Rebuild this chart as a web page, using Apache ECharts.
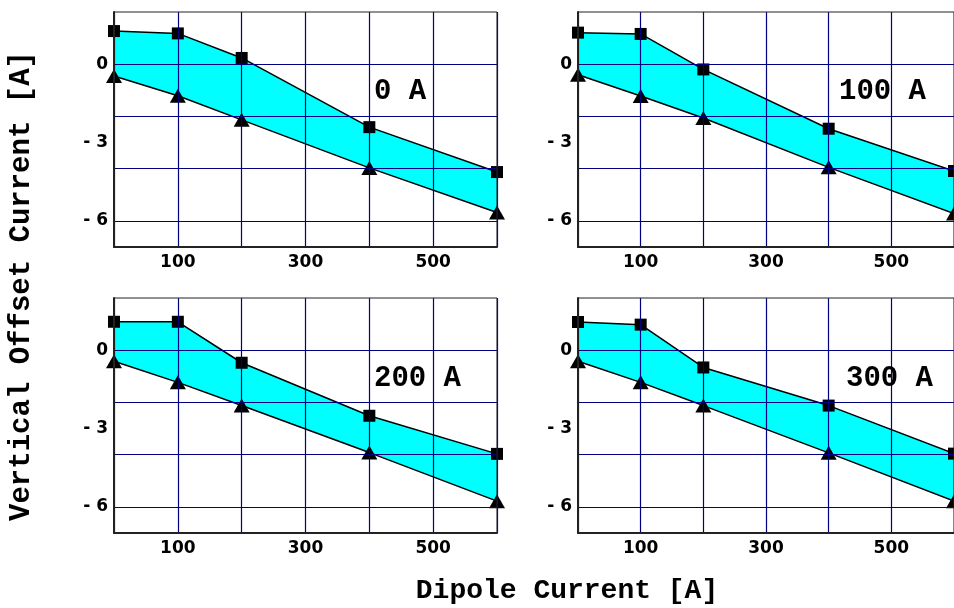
<!DOCTYPE html>
<html>
<head>
<meta charset="utf-8">
<script src="https://cdn.jsdelivr.net/npm/echarts@6/dist/echarts.min.js"></script>
<style>
  html, body { margin: 0; padding: 0; background: #ffffff; }
  #chart { width: 954px; height: 608px; }
</style>
</head>
<body>
<div id="chart"></div>
<script>
// Dipole current settings (x) shared by every panel
const dipoleCurrent = [0, 100, 200, 400, 600];

// Panel captions (corrector current)
const panelLabels = ['0 A', '100 A', '200 A', '300 A'];

// Upper limit of the vertical offset current (square markers)
const upper0A   = [1.27, 1.18, 0.24, -2.41, -4.13];
const upper100A = [1.21, 1.16, -0.20, -2.47, -4.09];
const upper200A = [1.09, 1.09, -0.48, -2.51, -3.97];
const upper300A = [1.08, 0.98, -0.66, -2.12, -3.96];

// Lower limit of the vertical offset current (triangle markers)
const lower0A   = [-0.45, -1.21, -2.13, -3.97, -5.68];
const lower100A = [-0.40, -1.22, -2.06, -3.95, -5.72];
const lower200A = [-0.42, -1.23, -2.12, -3.92, -5.78];
const lower300A = [-0.42, -1.23, -2.12, -3.93, -5.78];

// Axis ticks
const xTickLabels = [100, 300, 500];
const yTickLabels = [0, -3, -6];
const yGridValues = [0, -2, -4, -6];

const uppers = [upper0A, upper100A, upper200A, upper300A];
const lowers = [lower0A, lower100A, lower200A, lower300A];

// panel placement in pixels
const panelBoxes = [
  { left: 114, top: 12 },
  { left: 578, top: 12 },
  { left: 114, top: 298 },
  { left: 578, top: 298 }
];
const PANEL_W = 383, PANEL_H = 235;

const NAVY = '#000080';
const CYAN = '#00ffff';
const tickFont = { fontFamily: 'DejaVu Sans', fontWeight: 'bold', fontSize: 17, color: '#000' };

function pairs(xs, ys) { return xs.map((x, i) => [x, ys[i]]); }

const grids = [], xAxes = [], yAxes = [], series = [], graphics = [];

panelBoxes.forEach((box, p) => {
  grids.push({
    left: box.left, top: box.top, width: PANEL_W, height: PANEL_H,
    show: true, borderColor: '#222', borderWidth: 1, backgroundColor: 'transparent', z: 6
  });
  xAxes.push({
    gridIndex: p, type: 'value', min: 0, max: 600, interval: 100, z: 5,
    axisLine: { show: true, onZero: false, lineStyle: { color: '#222', width: 2 } },
    axisTick: { show: false },
    axisLabel: Object.assign({ margin: 7, customValues: xTickLabels }, tickFont),
    splitLine: { show: true, lineStyle: { color: NAVY, width: 1.2 } }
  });
  yAxes.push({
    gridIndex: p, type: 'value', min: -7, max: 2, interval: 1, z: 5,
    axisLine: { show: true, onZero: false, lineStyle: { color: '#222', width: 2 } },
    axisTick: { show: false, customValues: yGridValues },
    axisLabel: Object.assign({
      margin: 6, customValues: yTickLabels,
      formatter: v => (v < 0 ? '- ' + (-v) : String(v))
    }, tickFont),
    splitLine: { show: true, lineStyle: { color: NAVY, width: 1.2 } }
  });

  const up = uppers[p], lo = lowers[p];
  // band: cyan under the upper limit, then white under the lower limit
  series.push({
    type: 'line', xAxisIndex: p, yAxisIndex: p, z: 1,
    data: pairs(dipoleCurrent, up), symbol: 'none', silent: true,
    lineStyle: { opacity: 0 }, areaStyle: { origin: 'start', color: CYAN, opacity: 1 }
  });
  series.push({
    type: 'line', xAxisIndex: p, yAxisIndex: p, z: 1,
    data: pairs(dipoleCurrent, lo), symbol: 'none', silent: true,
    lineStyle: { opacity: 0 }, areaStyle: { origin: 'start', color: '#ffffff', opacity: 1 }
  });
  // limit curves with markers
  series.push({
    type: 'line', xAxisIndex: p, yAxisIndex: p, z: 2,
    data: pairs(dipoleCurrent, up), symbol: 'rect', symbolSize: 12,
    itemStyle: { color: '#000' }, lineStyle: { color: '#000', width: 1.5 }
  });
  series.push({
    type: 'line', xAxisIndex: p, yAxisIndex: p, z: 2,
    data: pairs(dipoleCurrent, lo), symbol: 'triangle', symbolSize: [16, 14],
    itemStyle: { color: '#000' }, lineStyle: { color: '#000', width: 1.5 }
  });
});

// panel captions
const captionPos = [[374, 92], [839, 92], [374, 379], [846, 379]];
panelLabels.forEach((t, p) => {
  graphics.push({
    type: 'text', x: captionPos[p][0], y: captionPos[p][1], z: 10,
    style: { text: t, font: 'bold 29px "Liberation Mono", monospace', fill: '#000',
             align: 'left', verticalAlign: 'middle' }
  });
});

// shared axis titles
graphics.push({
  type: 'text', x: 567, y: 591, z: 10,
  style: { text: 'Dipole Current [A]', font: 'bold 28px "Liberation Mono", monospace', fill: '#000',
           align: 'center', verticalAlign: 'middle' }
});
graphics.push({
  type: 'text', x: 22, y: 286, rotation: Math.PI / 2, z: 10,
  style: { text: 'Vertical Offset Current [A]', font: 'bold 29px "Liberation Mono", monospace', fill: '#000',
           align: 'center', verticalAlign: 'middle' }
});

const chart = echarts.init(document.getElementById('chart'), null, { renderer: 'canvas' });
chart.setOption({
  animation: false,
  backgroundColor: '#ffffff',
  grid: grids,
  xAxis: xAxes,
  yAxis: yAxes,
  series: series,
  graphic: graphics
});
</script>
</body>
</html>
